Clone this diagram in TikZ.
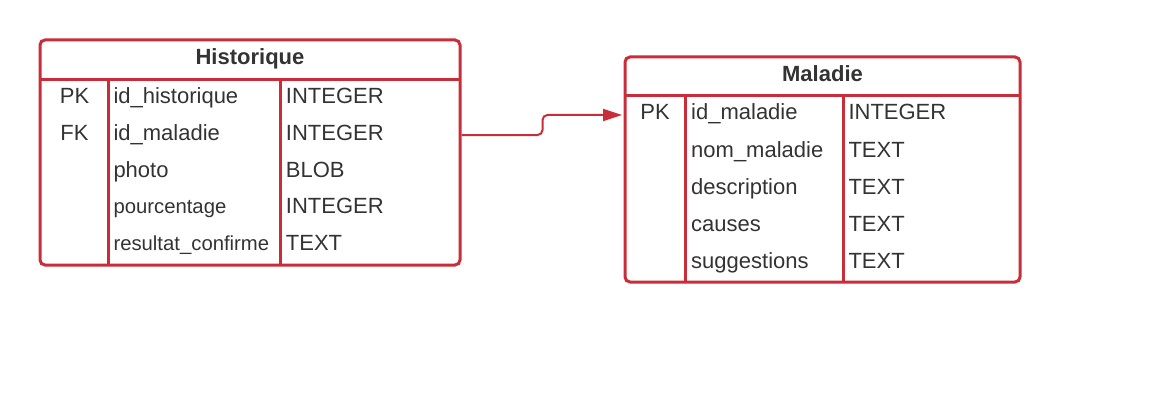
\documentclass[tikz,border=0pt]{standalone}
\usepackage{fontspec}
\setmainfont{Liberation Sans}
\usetikzlibrary{arrows.meta}
\definecolor{er}{HTML}{C92D39}
\definecolor{tx}{HTML}{333333}
\begin{document}
\begin{tikzpicture}[x=1pt,y=-1pt,
  tbl/.style={draw=er, line width=3pt, rounded corners=5pt, inner sep=0pt},
  sep/.style={draw=er, line width=3pt},
  cell/.style={text=tx, font=\fontsize{22}{26}\selectfont, inner sep=0pt, anchor=base west},
  smallcell/.style={cell, font=\fontsize{20.3}{24}\selectfont},
  keycell/.style={text=tx, font=\fontsize{22}{26}\selectfont, inner sep=0pt, anchor=base},
  title/.style={text=tx, font=\fontsize{22}{26}\selectfont\bfseries, inner sep=0pt, anchor=base},
  conn/.style={draw=er, line width=2pt, rounded corners=5pt, -{Triangle[length=19pt,width=12pt]}, shorten >=1.5pt}]
\useasboundingbox (0,0) rectangle (1153,417);

% Historique table
\node[tbl, minimum width=420pt, minimum height=225pt] (hist) at (250,152.5) {};
\draw[sep] (40,80) -- (460,80);
\draw[sep] (108,80) -- (108,265);
\draw[sep] (280,80) -- (280,265);
\node[title] (histT) at (250,64.5) {Historique};
\node[keycell] (hpk) at (74.5,103.5) {PK};
\node[keycell] (hfk) at (74.5,140) {FK};
\node[cell] (hn1) at (113.3,103.5) {id\_historique};
\node[cell] (hn2) at (113.3,140) {id\_maladie};
\node[cell] (hn3) at (113.3,177) {photo};
\node[smallcell] (hn4) at (113.3,213.5) {pourcentage};
\node[smallcell] (hn5) at (113.3,250.5) {resultat\_confirme};
\node[cell] (ht1) at (285.7,103.5) {INTEGER};
\node[cell] (ht2) at (285.7,140) {INTEGER};
\node[cell] (ht3) at (285.7,177) {BLOB};
\node[cell] (ht4) at (285.7,213.5) {INTEGER};
\node[cell] (ht5) at (285.7,250.5) {TEXT};

% Maladie table
\node[tbl, minimum width=395pt, minimum height=225pt] (mal) at (822.5,169.5) {};
\draw[sep] (625,96) -- (1020,96);
\draw[sep] (685,96) -- (685,282);
\draw[sep] (843.5,96) -- (843.5,282);
\node[title] (malT) at (822.5,81.7) {Maladie};
\node[keycell] (mpk) at (655,120) {PK};
\node[cell] (mn1) at (691,120) {id\_maladie};
\node[cell] (mn2) at (691,157.3) {nom\_maladie};
\node[cell] (mn3) at (691,194) {description};
\node[cell] (mn4) at (691,231) {causes};
\node[cell] (mn5) at (691,268.3) {suggestions};
\node[cell] (mt1) at (848.3,120) {INTEGER};
\node[cell] (mt2) at (848.3,157.3) {TEXT};
\node[cell] (mt3) at (848.3,194) {TEXT};
\node[cell] (mt4) at (848.3,231) {TEXT};
\node[cell] (mt5) at (848.3,268.3) {TEXT};

% connector
\coordinate (src) at (hist.east |- 0,135);
\coordinate (dst) at (mal.west |- 0,115);
\draw[conn] (src) -- (542.5,135) -- (542.5,115) -- (dst);
\end{tikzpicture}
\end{document}
